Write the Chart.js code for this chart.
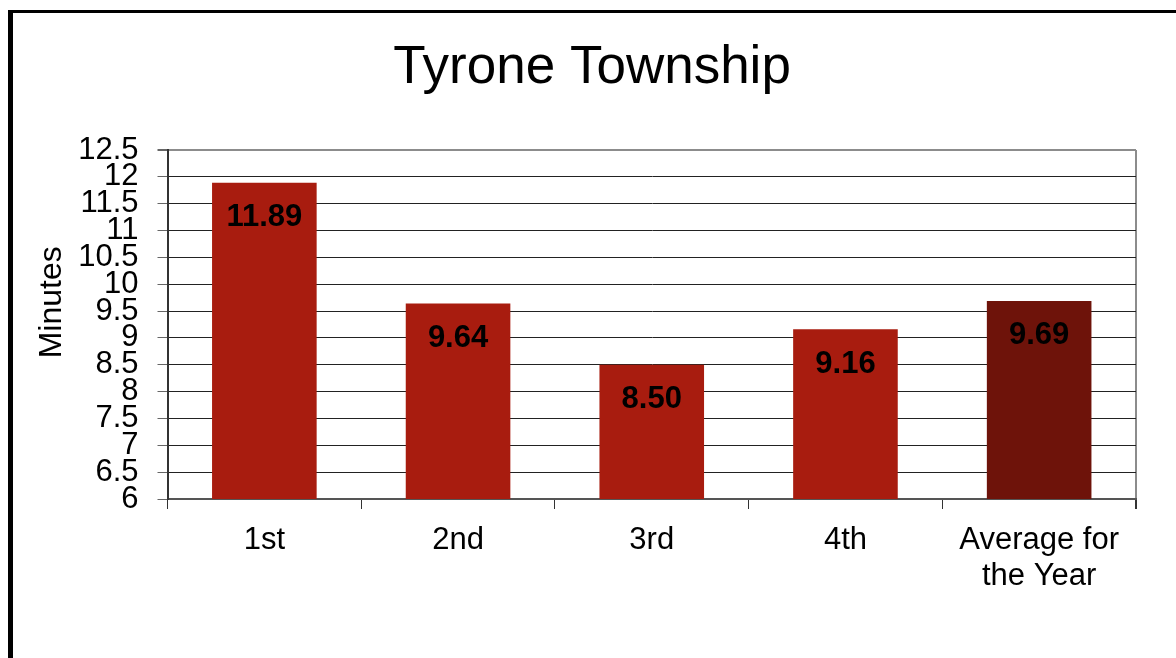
<!DOCTYPE html>
<html lang="en">
<head>
  <meta charset="UTF-8">
  <title>Tyrone Township</title>
  <script src="https://cdn.jsdelivr.net/npm/chart.js"></script>
  <style>
    html, body { margin: 0; padding: 0; background: #fff; }
    #wrap { position: relative; width: 1176px; height: 658px; overflow: hidden; }
    /* black frame of the slide, only left and top edges show */
    #frame { position: absolute; left: 8px; top: 10px; width: 1300px; height: 800px;
             border-left: 5px solid #000; border-top: 3px solid #000; }
    #chartBox { position: absolute; left: 0; top: 0; width: 1176px; height: 658px; }
    #responseChart { display: block; width: 1176px; height: 658px; }
  </style>
</head>
<body>
<div id="wrap">
  <div id="frame"></div>
  <div id="chartBox"><canvas id="responseChart" width="1176" height="658"></canvas></div>
</div>

<script>
// data
const quarters = ["1st", "2nd", "3rd", "4th", ["Average for", "the Year"]];
const minutes = [11.89, 9.64, 8.50, 9.16, 9.69];
const barColors = ["#A81C0F", "#A81C0F", "#A81C0F", "#A81C0F", "#6E130A"];
const yMin = 6, yMax = 12.5, yStep = 0.5;

const FONT = "'Liberation Sans', Arial, sans-serif";

// value labels drawn inside the top of each bar
const valueLabels = {
  id: "valueLabels",
  afterDatasetsDraw(chart) {
    const ctx = chart.ctx;
    const meta = chart.getDatasetMeta(0);
    ctx.save();
    ctx.font = "bold 31px " + FONT;
    ctx.fillStyle = "#000";
    ctx.textAlign = "center";
    ctx.textBaseline = "middle";
    meta.data.forEach((bar, i) => {
      ctx.fillText(minutes[i].toFixed(2), bar.x, bar.y + 35);
    });
    ctx.restore();
  }
};

new Chart(document.getElementById("responseChart").getContext("2d"), {
  type: "bar",
  data: {
    labels: quarters,
    datasets: [{
      data: minutes,
      backgroundColor: barColors,
      borderWidth: 0,
      barPercentage: 0.54,
      categoryPercentage: 1
    }]
  },
  options: {
    responsive: false,
    animation: false,
    devicePixelRatio: 1,
    layout: { padding: { left: 48, top: 14, right: 40, bottom: 0 } },
    plugins: {
      legend: { display: false },
      tooltip: { enabled: false },
      title: {
        display: true,
        text: "Tyrone Township",
        color: "#000",
        font: { family: FONT, size: 53, weight: "normal", lineHeight: 1.2 },
        padding: { top: 23, bottom: 49.4 }
      }
    },
    scales: {
      x: {
        offset: true,
        grid: {
          offset: true,
          drawOnChartArea: true,
          // only the closing line at the right edge is visible
          color: c => c.type === "tick" ? "rgba(0,0,0,0)" : "#8c8c8c",
          lineWidth: c => c.type === "tick" ? 1 : 2,
          tickColor: "#333",
          tickLength: 10
        },
        border: { color: "#555", width: 2 },
        ticks: {
          color: "#000",
          padding: 13,
          maxRotation: 0,
          autoSkip: false,
          font: { family: FONT, size: 31, lineHeight: 1.18 }
        },
        afterFit: s => { s.height = 159; }
      },
      y: {
        min: yMin,
        max: yMax,
        grid: {
          color: c => c.tick && c.tick.value === yMax ? "#8c8c8c" : "#222",
          lineWidth: c => c.tick && c.tick.value === yMax ? 2 : 1,
          tickColor: "#666",
          tickLength: 10
        },
        border: { color: "#333", width: 2 },
        ticks: {
          stepSize: yStep,
          autoSkip: false,
          color: "#000",
          padding: 19,
          font: { family: FONT, size: 31, lineHeight: 1 },
          callback: v => String(v)
        },
        title: {
          display: true,
          // leading spaces lift the word above the axis centre, as in the original
          text: "     Minutes",
          color: "#000",
          font: { family: FONT, size: 32, lineHeight: 1.2 },
          padding: { top: -15, bottom: 0 }
        },
        afterFit: s => { s.width = 119.5; }
      }
    }
  },
  plugins: [valueLabels]
});
</script>
</body>
</html>
